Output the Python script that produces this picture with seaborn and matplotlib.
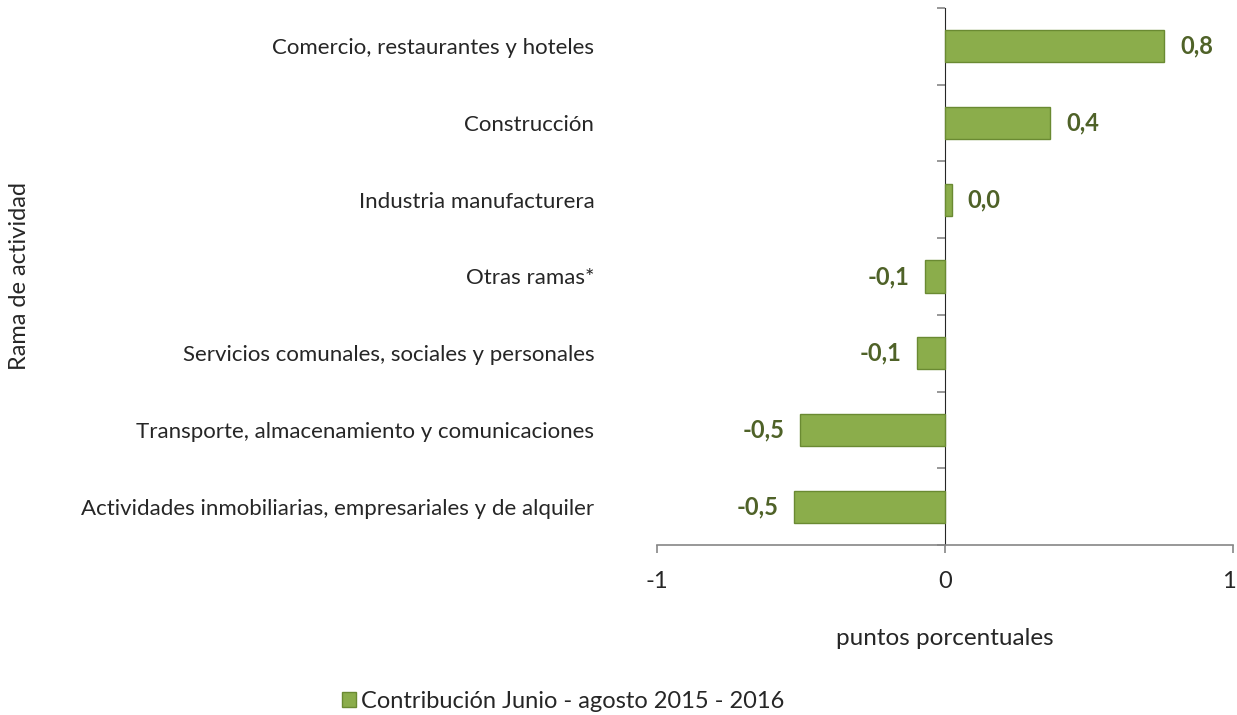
import numpy as np
import matplotlib
matplotlib.use("Agg")
import matplotlib.pyplot as plt
import matplotlib.patches as mpatches
import matplotlib.transforms as mtransforms
import seaborn as sns
import pandas as pd

# ── Data ───────────────────────────────────────────────────────────────────────
ramas = [
    "Comercio, restaurantes y hoteles",
    "Construcción",
    "Industria manufacturera",
    "Otras ramas*",
    "Servicios comunales, sociales y personales",
    "Transporte, almacenamiento y comunicaciones",
    "Actividades inmobiliarias, empresariales y de alquiler",
]
contribucion = [0.76, 0.365, 0.024, -0.07, -0.097, -0.503, -0.524]
x_ticks = [-1, 0, 1]
serie = "Contribución Junio - agosto 2015 - 2016"

BAR = "#8BAD4B"
EDGE = "#6A8A32"
LABEL = "#4F6228"
AXIS = "#868686"

sns.set_style("white")
plt.rcParams["font.family"] = ["Lato", "DejaVu Sans"]

df = pd.DataFrame({"rama": ramas, "valor": contribucion})

fig = plt.figure(figsize=(12.37, 7.15), dpi=100)
ax = fig.add_axes([0.531, 0.2378, 0.466, 0.751])

sns.barplot(data=df, y="rama", x="valor", orient="h", color=BAR,
            edgecolor=EDGE, linewidth=1, width=0.42, saturation=1, ax=ax)

ax.set_xlim(-1, 1)
ax.set_ylim(len(ramas) - 0.5, -0.5)
ax.set_xticks(x_ticks)
ax.set_xticklabels([str(t) for t in x_ticks], fontsize=17)
ax.tick_params(axis="x", direction="out", length=6, width=1.2, color=AXIS,
               pad=13, bottom=True)
ax.tick_params(axis="y", length=0, pad=45, labelsize=16)
# keep the last tick label inside the figure
last = ax.get_xticklabels()[-1]
last.set_transform(last.get_transform() +
                   mtransforms.ScaledTranslation(-4 / 100, 0, fig.dpi_scale_trans))

for s in ["top", "right", "left"]:
    ax.spines[s].set_visible(False)
ax.spines["bottom"].set_color(AXIS)
ax.spines["bottom"].set_linewidth(1.2)

# vertical axis at zero with ticks between categories
sec = ax.secondary_yaxis(0.5)
sec.set_yticks(np.arange(-0.5, len(ramas), 1.0))
sec.set_yticklabels([])
sec.tick_params(direction="in", length=6, width=1.2, color=AXIS)
sec.spines["left"].set_color(AXIS)
sec.spines["left"].set_linewidth(1.2)

for i, v in enumerate(contribucion):
    txt = f"{v:.1f}".replace(".", ",")
    if v >= 0:
        ax.text(v + 0.055, i, txt, ha="left", va="center", fontsize=17,
                fontweight="bold", color=LABEL)
    else:
        ax.text(v - 0.055, i, txt, ha="right", va="center", fontsize=17,
                fontweight="bold", color=LABEL)

ax.set_xlabel("puntos porcentuales", fontsize=17.5, labelpad=26)
ax.set_ylabel("Rama de actividad", fontsize=17)
ax.yaxis.set_label_coords(-1.088, 0.5)

handle = mpatches.Patch(facecolor=BAR, edgecolor=EDGE, label=serie)
fig.legend(handles=[handle], loc="center", bbox_to_anchor=(0.455, 0.019),
           frameon=False, fontsize=17, handlelength=0.6, handleheight=0.6,
           handletextpad=0.2, borderpad=0)

fig.savefig("out.png", dpi=100)
